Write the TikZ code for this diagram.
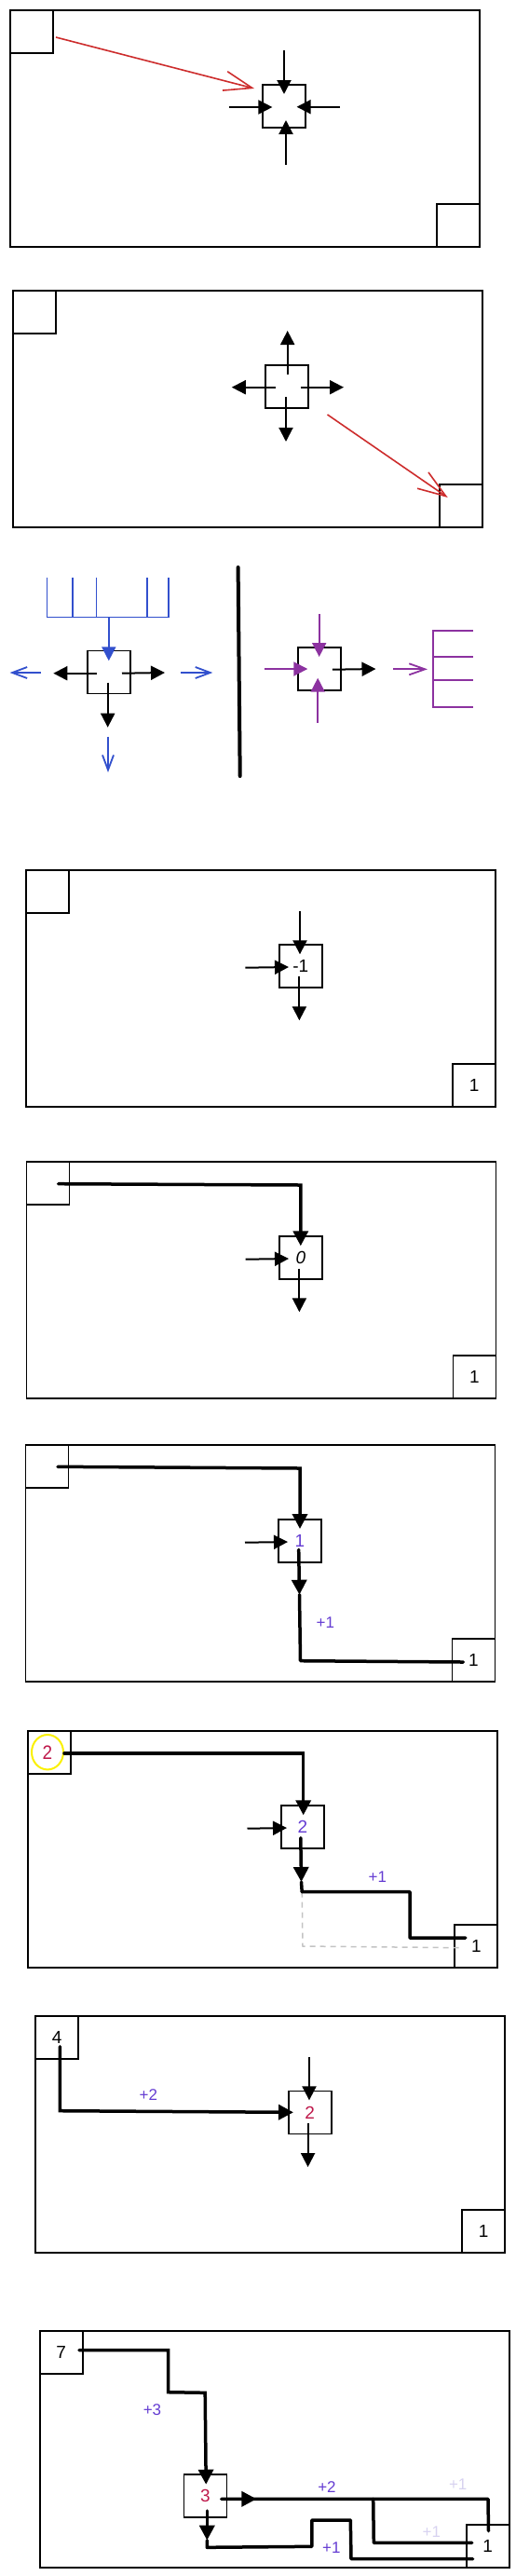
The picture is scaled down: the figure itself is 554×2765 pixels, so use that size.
\documentclass[tikz,border=0pt]{standalone}
\usepackage{fontspec}
\setmainfont{Liberation Sans}
\usetikzlibrary{arrows.meta}
\definecolor{cred}{RGB}{205,45,45}
\definecolor{cblue}{RGB}{50,80,205}
\definecolor{cpurple}{RGB}{140,50,160}
\definecolor{tpurple}{RGB}{100,60,210}
\definecolor{ccrimson}{RGB}{190,25,75}
\definecolor{cyellow}{RGB}{250,240,0}
\definecolor{cfaint}{RGB}{215,210,240}
\definecolor{cdash}{RGB}{195,195,195}
\tikzset{
  frame/.style={draw, line width=1.8pt, minimum width=504pt, minimum height=254pt, inner sep=0pt, anchor=north west},
  cbox/.style={draw, line width=1.8pt, minimum size=46pt, inner sep=0pt, font=\fontsize{19}{19}\selectfont},
  tlbox/.style={cbox, anchor=north west},
  brbox/.style={cbox, anchor=south east},
  arr/.style={line width=2pt, -{Triangle[length=15pt,width=15pt]}},
  fat/.style={line width=3.5pt, line join=round, line cap=round},
  fatarr/.style={line width=3.5pt, line cap=round, -{Triangle[length=16pt,width=16pt]}},
  redarr/.style={draw=cred, line width=1.6pt, -{Straight Barb[length=30pt,width=21pt]}},
  bluearr/.style={draw=cblue, line width=1.8pt, -{Straight Barb[length=16pt,width=12pt]}},
  bluefill/.style={draw=cblue, fill=cblue, line width=1.8pt, -{Triangle[length=15pt,width=15pt]}},
  purplearr/.style={draw=cpurple, line width=1.8pt, -{Straight Barb[length=17pt,width=12pt]}},
  purplefill/.style={draw=cpurple, fill=cpurple, line width=1.8pt, -{Triangle[length=15pt,width=15pt]}},
  comb/.style={draw=cblue, line width=1.5pt},
  eshape/.style={draw=cpurple, line width=1.8pt},
  lbl/.style={font=\fontsize{17}{17}\selectfont, text=tpurple, inner sep=0pt},
  faint/.style={font=\fontsize{17}{17}\selectfont, text=cfaint, inner sep=0pt},
  dashgray/.style={draw=cdash, line width=1.5pt, dash pattern=on 6pt off 5pt},
  ring/.style={draw=cyellow, line width=2pt, circle, minimum width=34pt, inner sep=0pt, yscale=1.1, text=ccrimson, font=\fontsize{19}{19}\selectfont},
}
\begin{document}
\begin{tikzpicture}[x=1pt,y=-1pt]
\useasboundingbox (0,0) rectangle (554,2765);

% ---------------- Panel 1 ----------------
\node[frame] (f1) at (10,10) {};
\node[tlbox] (tl1) at (f1.north west) {};
\node[brbox] (br1) at (f1.south east) {};
\node[cbox] (c1) at (305,113.7) {};
\coordinate (p1ta) at (305,54);   \coordinate (p1tb) at (305,101);
\coordinate (p1la) at (245.7,115);\coordinate (p1lb) at (292.4,115);
\coordinate (p1ra) at (365,114.7);\coordinate (p1rb) at (318.6,114.7);
\coordinate (p1ba) at (307,176.7);\coordinate (p1bb) at (307,129);
\coordinate (p1ea) at (60,40);    \coordinate (p1eb) at (273,95);
\draw[arr] (p1ta) -- (p1tb);
\draw[arr] (p1la) -- (p1lb);
\draw[arr] (p1ra) -- (p1rb);
\draw[arr] (p1ba) -- (p1bb);
\draw[redarr] (p1ea) -- (p1eb);

% ---------------- Panel 2 ----------------
\node[frame] (f2) at (13,311) {};
\node[tlbox] (tl2) at (f2.north west) {};
\node[brbox] (br2) at (f2.south east) {};
\node[cbox] (c2) at (308,415) {};
\coordinate (p2ua) at (308.7,401.7);\coordinate (p2ub) at (308.7,355);
\coordinate (p2la) at (295.6,415.7);\coordinate (p2lb) at (248.8,415.7);
\coordinate (p2ra) at (322.5,415.7);\coordinate (p2rb) at (369,415.7);
\coordinate (p2da) at (307,426);    \coordinate (p2db) at (307,474);
\coordinate (p2ea) at (351.5,445);  \coordinate (p2eb) at (480.7,534);
\draw[arr] (p2ua) -- (p2ub);
\draw[arr] (p2la) -- (p2lb);
\draw[arr] (p2ra) -- (p2rb);
\draw[arr] (p2da) -- (p2db);
\draw[redarr] (p2ea) -- (p2eb);

% ---------------- Panel 3 ----------------
\coordinate (k1) at (50.6,620);  \coordinate (k1b) at (50.6,662.3);
\coordinate (k2) at (77.9,620);  \coordinate (k2b) at (77.9,662.3);
\coordinate (k3) at (103.7,620); \coordinate (k3b) at (103.7,662.3);
\coordinate (k4) at (157.9,620); \coordinate (k4b) at (157.9,662.3);
\coordinate (k5) at (180.9,620); \coordinate (k5b) at (180.9,662.3);
\coordinate (kc) at (116.8,662.3);
\draw[comb] (k1) -- (k1b) -- (k5b) -- (k5);
\draw[comb] (k2) -- (k2b);
\draw[comb] (k3) -- (k3b);
\draw[comb] (k4) -- (k4b);
\node[cbox] (c3a) at (116.8,721.5) {};
\coordinate (p3in) at (116.8,709.3);
\draw[bluefill] (kc) -- (p3in);
\coordinate (p3la) at (104,722.7);  \coordinate (p3lb) at (57.3,722.7);
\coordinate (p3ra) at (131,722.7);  \coordinate (p3rb) at (177,722);
\coordinate (p3da) at (115.7,732.7);\coordinate (p3db) at (115.7,780.7);
\draw[arr] (p3la) -- (p3lb);
\draw[arr] (p3ra) -- (p3rb);
\draw[arr] (p3da) -- (p3db);
\coordinate (b3la) at (44.2,722);  \coordinate (b3lb) at (10.6,722);
\coordinate (b3ra) at (193.6,722); \coordinate (b3rb) at (228.3,722);
\coordinate (b3da) at (116,790.7); \coordinate (b3db) at (116,829);
\draw[bluearr] (b3la) -- (b3lb);
\draw[bluearr] (b3ra) -- (b3rb);
\draw[bluearr] (b3da) -- (b3db);
\coordinate (dv1) at (255.6,609); \coordinate (dv2) at (257.7,833);
\draw[line width=4pt, line cap=round] (dv1) -- (dv2);
\node[cbox] (c3b) at (342.7,717.7) {};
\coordinate (q3ta) at (342.7,659);  \coordinate (q3tb) at (342.7,705);
\coordinate (q3la) at (283.5,718);  \coordinate (q3lb) at (330.3,718);
\coordinate (q3ba) at (341.2,776);  \coordinate (q3bb) at (341.2,727.7);
\coordinate (q3ra) at (356.8,718.7);\coordinate (q3rb) at (403.5,718);
\draw[purplefill] (q3ta) -- (q3tb);
\draw[purplefill] (q3la) -- (q3lb);
\draw[purplefill] (q3ba) -- (q3bb);
\draw[arr] (q3ra) -- (q3rb);
\coordinate (q3oa) at (422,718.3); \coordinate (q3ob) at (459,718.3);
\draw[purplearr] (q3oa) -- (q3ob);
\coordinate (e1) at (508,677.3); \coordinate (e1b) at (464.8,677.3);
\coordinate (e4b) at (464.8,759.3); \coordinate (e4) at (508,759.3);
\coordinate (e2b) at (464.8,704.7); \coordinate (e2) at (508,704.7);
\coordinate (e3b) at (464.8,730.3); \coordinate (e3) at (508,730.3);
\draw[eshape] (e1) -- (e1b) -- (e4b) -- (e4);
\draw[eshape] (e2b) -- (e2);
\draw[eshape] (e3b) -- (e3);

% ---------------- Panel 4 ----------------
\node[frame] (f4) at (27.3,933) {};
\node[tlbox] (tl4) at (f4.north west) {};
\node[brbox] (br4) at (f4.south east) {1};
\node[cbox] (c4) at (322.8,1037) {-1};
\coordinate (p4ta) at (322,977.7);   \coordinate (p4tb) at (322,1024.3);
\coordinate (p4la) at (263.4,1038.7);\coordinate (p4lb) at (310,1038);
\coordinate (p4da) at (321.4,1047.7);\coordinate (p4db) at (321.4,1095.3);
\draw[arr] (p4ta) -- (p4tb);
\draw[arr] (p4la) -- (p4lb);
\draw[arr] (p4da) -- (p4db);

% ---------------- Panel 5 ----------------
\node[frame] (f5) at (27.6,1246) {};
\node[tlbox] (tl5) at (f5.north west) {};
\node[brbox] (br5) at (f5.south east) {1};
\node[cbox] (c5) at (322.8,1350.3) {\itshape 0};
\coordinate (p5s) at (62.7,1270.7); \coordinate (p5k) at (322.8,1272); \coordinate (p5e) at (322.8,1337.3);
\draw[fatarr] (p5s) -- (p5k) -- (p5e);
\coordinate (p5la) at (263.7,1351.7);\coordinate (p5lb) at (310,1351);
\coordinate (p5da) at (321.4,1361.7);\coordinate (p5db) at (321.4,1408.3);
\draw[arr] (p5la) -- (p5lb);
\draw[arr] (p5da) -- (p5db);

% ---------------- Panel 6 ----------------
\node[frame] (f6) at (26.5,1550) {};
\node[tlbox] (tl6) at (f6.north west) {};
\node[brbox] (br6) at (f6.south east) {1};
\node[cbox, text=tpurple] (c6) at (321.9,1653.8) {1};
\coordinate (p6s) at (62,1574.3); \coordinate (p6k) at (322,1576); \coordinate (p6e) at (322,1641);
\draw[fatarr] (p6s) -- (p6k) -- (p6e);
\coordinate (p6la) at (263,1655.7); \coordinate (p6lb) at (309,1655);
\draw[arr] (p6la) -- (p6lb);
\coordinate (p6da) at (320.7,1663.3); \coordinate (p6db) at (321.5,1711.7);
\coordinate (p6k2) at (322.5,1782.7); \coordinate (p6e2) at (497.3,1784);
\draw[fatarr] (p6da) -- (p6db);
\draw[fat] (p6db) -- (p6k2) -- (p6e2);
\node[lbl] (l6) at (349.4,1741.7) {+1};

% ---------------- Panel 7 ----------------
\node[frame] (f7) at (29.4,1857.3) {};
\node[tlbox] (tl7) at (f7.north west) {};
\node[brbox] (br7) at (f7.south east) {1};
\node[ring] (y7) at (51,1880.7) {2};
\node[cbox, text=tpurple] (c7) at (324.8,1961.3) {2};
\coordinate (p7s) at (69,1882); \coordinate (p7k) at (325.7,1882); \coordinate (p7e) at (325.7,1948.3);
\draw[fatarr] (p7s) -- (p7k) -- (p7e);
\coordinate (p7la) at (265.5,1962.7); \coordinate (p7lb) at (308,1962);
\draw[arr] (p7la) -- (p7lb);
\coordinate (p7da) at (322.8,1972.7); \coordinate (p7db) at (323.5,2020);
\coordinate (p7k1) at (324.2,2030.7); \coordinate (p7k2) at (440,2030.7);
\coordinate (p7k3) at (440,2080); \coordinate (p7e2) at (499.8,2080);
\coordinate (p7g1) at (325,2089); \coordinate (p7g2) at (497.3,2090.7);
\draw[dashgray] (p7k1) -- (p7g1) -- (p7g2);
\draw[fatarr] (p7da) -- (p7db);
\draw[fat] (p7db) -- (p7k1) -- (p7k2) -- (p7k3) -- (p7e2);
\node[lbl] (l7) at (405.3,2015) {+1};

% ---------------- Panel 8 ----------------
\node[frame] (f8) at (37.2,2163.3) {};
\node[tlbox] (tl8) at (f8.north west) {4};
\node[brbox] (br8) at (f8.south east) {1};
\node[cbox, text=ccrimson] (c8) at (332.7,2267.5) {2};
\coordinate (p8s) at (64.4,2196.7); \coordinate (p8k) at (64.4,2265.7); \coordinate (p8e) at (315,2267.3);
\draw[fatarr] (p8s) -- (p8k) -- (p8e);
\node[lbl] (l8) at (159.3,2248.3) {+2};
\coordinate (p8ta) at (332,2208.3); \coordinate (p8tb) at (332,2254.3);
\coordinate (p8da) at (330.6,2279.3); \coordinate (p8db) at (330.6,2326);
\draw[arr] (p8ta) -- (p8tb);
\draw[arr] (p8da) -- (p8db);

% ---------------- Panel 9 ----------------
\node[frame] (f9) at (41.8,2501) {};
\node[tlbox] (tl9) at (f9.north west) {7};
\node[brbox] (br9) at (f9.south east) {1};
\node[cbox, text=ccrimson] (c9) at (220.5,2679) {3};
\coordinate (p9s) at (85,2522.7); \coordinate (p9k1) at (180.5,2522.7); \coordinate (p9k2) at (180.5,2567.7);
\coordinate (p9k3) at (220.2,2568.3); \coordinate (p9e) at (221.2,2666.7);
\draw[fatarr] (p9s) -- (p9k1) -- (p9k2) -- (p9k3) -- (p9e);
\node[lbl] (l9a) at (163.5,2586.7) {+3};
\coordinate (p9ra) at (237.9,2682.3); \coordinate (p9rt) at (275.4,2682.3);
\coordinate (p9rk) at (524,2682.3); \coordinate (p9re) at (524.5,2716.7);
\coordinate (p9bk) at (400.7,2682.3); \coordinate (p9bk2) at (401.3,2729.3); \coordinate (p9be) at (506.7,2729.3);
\draw[fat] (p9ra) -- (p9rk) -- (p9re);
\draw[fatarr] (p9ra) -- (p9rt);
\draw[fat] (p9bk) -- (p9bk2) -- (p9be);
\node[lbl] (l9b) at (351,2669.3) {+2};
\node[faint] (l9c) at (491.7,2666.7) {+1};
\node[faint] (l9d) at (463.3,2717.7) {+1};
\coordinate (p9da) at (222.3,2695); \coordinate (p9db) at (222.3,2726.7);
\coordinate (p9d1) at (222.3,2734.3); \coordinate (p9d2) at (334.9,2733.3); \coordinate (p9d3) at (334.9,2705);
\coordinate (p9d4) at (376.3,2705); \coordinate (p9d5) at (377,2746.7); \coordinate (p9d6) at (507.7,2746.7);
\draw[fatarr] (p9da) -- (p9db);
\draw[fat] (p9db) -- (p9d1) -- (p9d2) -- (p9d3) -- (p9d4) -- (p9d5) -- (p9d6);
\node[lbl] (l9e) at (355.8,2735) {+1};
\end{tikzpicture}
\end{document}
